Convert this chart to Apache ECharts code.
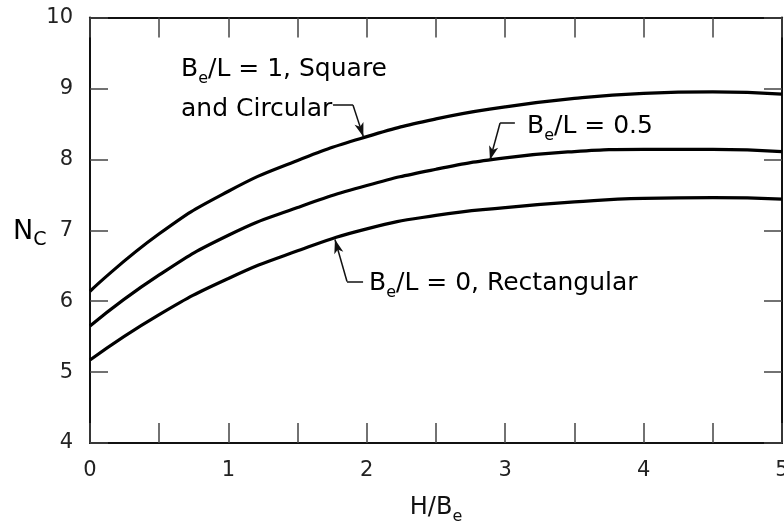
<!DOCTYPE html>
<html>
<head>
<meta charset="utf-8">
<script src="https://cdn.jsdelivr.net/npm/echarts@6/dist/echarts.min.js"></script>
<style>
html,body{margin:0;padding:0;background:#fff;}
#chart{width:784px;height:521px;}
</style>
</head>
<body>
<div id="chart"></div>
<script>
// ---- data ----
const xValues  = [0, 0.5, 1, 1.5, 2, 2.5, 3, 3.5, 4, 4.5, 5];
const ncSquare = [6.14, 6.95, 7.55, 7.985, 8.32, 8.57, 8.74, 8.86, 8.93, 8.95, 8.92];
const ncHalf   = [5.65, 6.37, 6.93, 7.32, 7.63, 7.86, 8.02, 8.11, 8.14, 8.14, 8.11];
const ncRect   = [5.17, 5.81, 6.32, 6.71, 7.02, 7.21, 7.32, 7.40, 7.45, 7.46, 7.44];
const xTickLabels = ['0', '1', '2', '3', '4', '5'];
const yTickLabels = ['4', '5', '6', '7', '8', '9', '10'];

// leader lines for the annotations (data coordinates): start, bend, arrow tip
const leaders = [
  [[1.756, 8.767], [1.900, 8.767], [1.975, 8.32]],
  [[3.070, 8.513], [2.963, 8.513], [2.890, 7.99]],
  [[1.973, 6.277], [1.857, 6.277], [1.770, 6.87]]
];

const FONT = 'DejaVu Sans';
const toPairs = arr => xValues.map((x, i) => [x, arr[i]]);

const chart = echarts.init(document.getElementById('chart'), null, {renderer: 'canvas'});

const markLineData = [];
leaders.forEach(l => {
  markLineData.push([{coord: l[0], symbol: 'none'}, {coord: l[1], symbol: 'none'}]);
  markLineData.push([{coord: l[1], symbol: 'none'}, {coord: l[2], symbol: 'arrow', symbolSize: [7, 14]}]);
});

const curveStyle = {color: '#000', width: 3.2};
const sub = {fontSize: 16, fontFamily: FONT, color: '#111', verticalAlign: 'bottom', lineHeight: 4};
const main = {fontSize: 25, fontFamily: FONT, color: '#111', lineHeight: 36};

const axisLine = {show: true, onZero: false, lineStyle: {color: '#111', width: 2}};
const tickStyle = {color: '#444', width: 1.5};

const option = {
  animation: false,
  backgroundColor: '#fff',
  grid: {left: 90, right: 2, top: 17.5, bottom: 78, containLabel: false, outerBoundsMode: 'none'},
  xAxis: [
    {
      type: 'value', position: 'bottom', min: 0, max: 5, interval: 0.5,
      axisLine: axisLine,
      axisTick: {show: true, inside: true, length: 20, lineStyle: tickStyle},
      axisLabel: {
        show: true, margin: 17, fontSize: 21, fontFamily: FONT, color: '#222',
        hideOverlap: false,
        formatter: v => (Number.isInteger(v) ? xTickLabels[v] : '')
      },
      splitLine: {show: false},
      name: '{m|H/B}{s|e}', nameLocation: 'middle', nameGap: 48,
      nameTextStyle: {rich: {m: {fontSize: 24, fontFamily: FONT, color: '#111', lineHeight: 34},
                            s: {fontSize: 16, fontFamily: FONT, color: '#111', verticalAlign: 'bottom', lineHeight: 4}}}
    },
    {
      type: 'value', position: 'top', min: 0, max: 5, interval: 0.5,
      axisLine: axisLine,
      axisTick: {show: true, inside: true, length: 20, lineStyle: tickStyle},
      axisLabel: {show: false}, splitLine: {show: false}
    }
  ],
  yAxis: [
    {
      type: 'value', position: 'left', min: 4, max: 10, interval: 1,
      axisLine: axisLine,
      axisTick: {show: true, inside: true, length: 18, lineStyle: tickStyle},
      axisLabel: {
        show: true, margin: 17, fontSize: 21, fontFamily: FONT, color: '#222',
        formatter: v => yTickLabels[v - 4]
      },
      splitLine: {show: false}
    },
    {
      type: 'value', position: 'right', min: 4, max: 10, interval: 1,
      axisLine: axisLine,
      axisTick: {show: true, inside: true, length: 18, lineStyle: tickStyle},
      axisLabel: {show: false}, splitLine: {show: false}
    }
  ],
  series: [
    {
      name: 'Be/L = 1', type: 'line', data: toPairs(ncSquare), smooth: 0.5,
      showSymbol: false, symbol: 'none', lineStyle: curveStyle, silent: true,
      markLine: {
        silent: true, animation: false,
        label: {show: false},
        lineStyle: {color: '#111', width: 1.5, type: 'solid'},
        emphasis: {disabled: true},
        data: markLineData
      }
    },
    {
      name: 'Be/L = 0.5', type: 'line', data: toPairs(ncHalf), smooth: 0.5,
      showSymbol: false, symbol: 'none', lineStyle: curveStyle, silent: true
    },
    {
      name: 'Be/L = 0', type: 'line', data: toPairs(ncRect), smooth: 0.5,
      showSymbol: false, symbol: 'none', lineStyle: curveStyle, silent: true
    }
  ],
  graphic: [
    {type: 'text', x: 181, y: 69, silent: true,
     style: {text: '{m|B}{s|e}{m|/L = 1, Square}', rich: {m: main, s: sub}, align: 'left', verticalAlign: 'middle'}},
    {type: 'text', x: 181, y: 109, silent: true,
     style: {text: '{m|and Circular}', rich: {m: main}, align: 'left', verticalAlign: 'middle'}},
    {type: 'text', x: 527, y: 126, silent: true,
     style: {text: '{m|B}{s|e}{m|/L = 0.5}', rich: {m: main, s: sub}, align: 'left', verticalAlign: 'middle'}},
    {type: 'text', x: 369, y: 283, silent: true,
     style: {text: '{m|B}{s|e}{m|/L = 0, Rectangular}', rich: {m: main, s: sub}, align: 'left', verticalAlign: 'middle'}},
    {type: 'text', x: 13, y: 232, silent: true,
     style: {text: '{m|N}{s|C}', rich: {m: {fontSize: 27, fontFamily: FONT, color: '#111', lineHeight: 36},
                                        s: {fontSize: 19, fontFamily: FONT, color: '#111', verticalAlign: 'bottom', lineHeight: 10}},
             align: 'left', verticalAlign: 'middle'}}
  ]
};
chart.setOption(option);
</script>
</body>
</html>
